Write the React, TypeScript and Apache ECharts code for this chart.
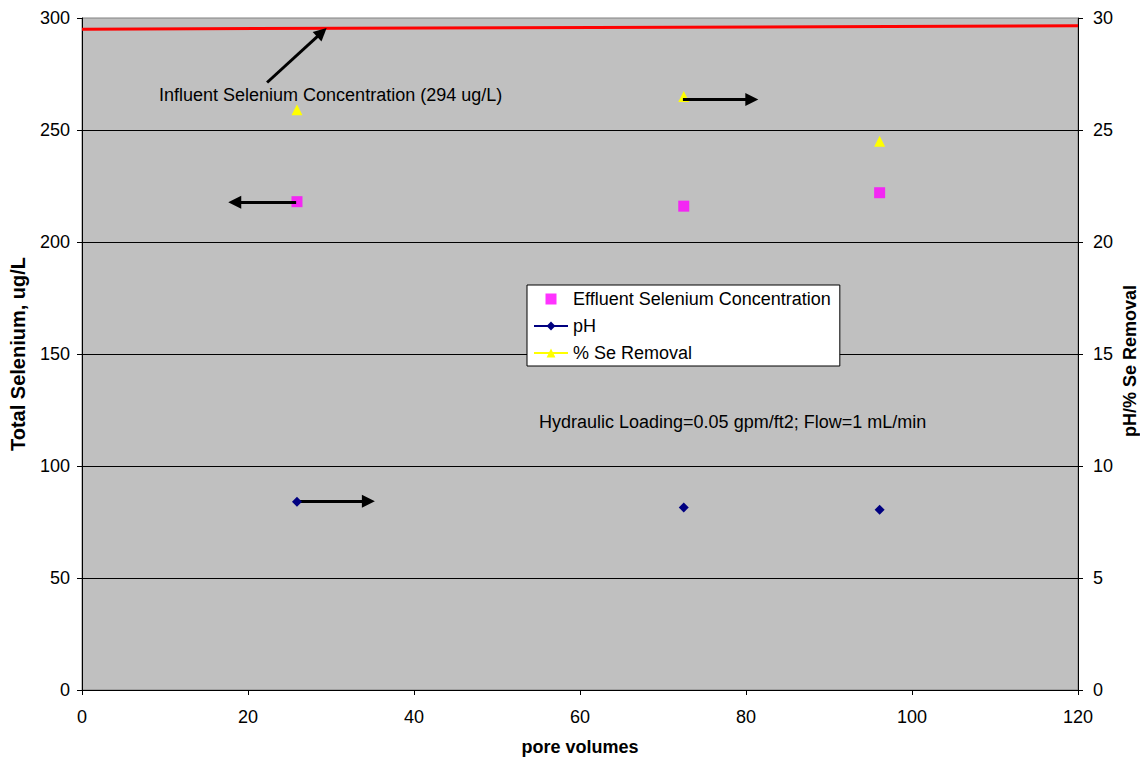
import React, { useEffect, useRef } from "react";
import * as echarts from "echarts";

const FONT = "'Liberation Sans', Arial, sans-serif";

const poreVolumes = [25.9, 72.5, 96.1];
const effluentSe = [218, 216, 222];
const pH = [8.4, 8.15, 8.05];
const seRemoval = [25.9, 26.5, 24.5];
const influentX = [0, 120];
const influentSe = [295, 296.5];

// annotation arrows: [x1, y1, x2, y2] in data units (end = arrow head centre)
const arrowInfluent = [22.3, 271.2, 28.9, 293.6]; // left axis
const arrowEffluent = [25.8, 217.7, 18.4, 217.7]; // left axis
const arrowPH = [25.9, 8.43, 34.5, 8.43]; // right axis
const arrowRemoval = [72.4, 26.36, 80.7, 26.36]; // right axis

const arrowLine = (a: number[]) => [{ coord: [a[0], a[1]] }, { coord: [a[2], a[3]] }];

export default function App() {
  const ref = useRef<HTMLDivElement>(null);
  useEffect(() => {
    if (!ref.current) return;
    document.body.style.margin = "0";
    document.body.style.overflow = "hidden";
    const chart = echarts.init(ref.current, null, { renderer: "svg" });
    const mlBase = {
      silent: true,
      symbol: ["none", "triangle"],
      symbolSize: [13, 13],
      label: { show: false },
      lineStyle: { color: "#000", width: 3, type: "solid" },
      emphasis: { disabled: true },
    };
    chart.setOption({
      animation: false,
      backgroundColor: "#fff",
      textStyle: { fontFamily: FONT },
      grid: {
        left: 82,
        right: 62,
        top: 18,
        bottom: 67,
        containLabel: false,
        outerBoundsMode: "none",
        show: true,
        backgroundColor: "#C0C0C0",
        borderColor: "#808080",
        borderWidth: 1,
      },
      legend: {
        left: 527,
        top: 285,
        orient: "vertical",
        backgroundColor: "#fff",
        borderColor: "#000",
        borderWidth: 1,
        borderRadius: 0,
        padding: [5, 9, 4, 6],
        itemWidth: 34,
        itemHeight: 11,
        itemGap: 9,
        symbolKeepAspect: true,
        textStyle: { fontFamily: FONT, fontSize: 18, color: "#000", padding: [0, 0, 0, 0] },
        data: [
          { name: "Effluent Selenium Concentration", icon: "path://M0,0h10v10h-10z" },
          { name: "pH", lineStyle: { opacity: 1, width: 2, color: "#000080" } },
          { name: "% Se Removal", lineStyle: { opacity: 1, width: 2, color: "#FFFF00" } },
        ],
      },
      xAxis: {
        type: "value",
        min: 0,
        max: 120,
        interval: 20,
        name: "pore volumes",
        nameLocation: "middle",
        nameGap: 48,
        nameTextStyle: { fontFamily: FONT, fontSize: 18, fontWeight: "bold", color: "#000" },
        axisLine: { show: true, onZero: false, lineStyle: { color: "#000", width: 1 } },
        axisTick: { show: true, length: 5, inside: false, lineStyle: { color: "#000" } },
        axisLabel: { fontFamily: FONT, fontSize: 18, color: "#000", margin: 18 },
        splitLine: { show: false },
      },
      yAxis: [
        {
          type: "value",
          min: 0,
          max: 300,
          interval: 50,
          position: "left",
          name: "Total Selenium, ug/L",
          nameLocation: "middle",
          nameRotate: 90,
          nameGap: 54,
          nameTextStyle: { fontFamily: FONT, fontSize: 20, fontWeight: "bold", color: "#000" },
          axisLine: { show: true, lineStyle: { color: "#000", width: 1 } },
          axisTick: { show: true, length: 5, lineStyle: { color: "#000" } },
          axisLabel: { fontFamily: FONT, fontSize: 18, color: "#000", margin: 12 },
          splitLine: { show: true, showMaxLine: false, lineStyle: { color: "#000", width: 1 } },
        },
        {
          type: "value",
          min: 0,
          max: 30,
          interval: 5,
          position: "right",
          axisLine: { show: true, lineStyle: { color: "#000", width: 1 } },
          axisTick: { show: true, length: 5, lineStyle: { color: "#000" } },
          axisLabel: { fontFamily: FONT, fontSize: 18, color: "#000", margin: 15 },
          splitLine: { show: false },
        },
      ],
      series: [
        {
          name: "Influent",
          type: "line",
          yAxisIndex: 0,
          data: influentX.map((x, i) => [x, influentSe[i]]),
          showSymbol: false,
          symbol: "none",
          lineStyle: { color: "#FF0000", width: 3 },
          z: 3,
          silent: true,
          markLine: { ...mlBase, data: [arrowLine(arrowInfluent), arrowLine(arrowEffluent)] },
        },
        {
          name: "Effluent Selenium Concentration",
          type: "scatter",
          yAxisIndex: 0,
          symbol: "rect",
          symbolSize: 11,
          itemStyle: { color: "#FF00FF" },
          data: poreVolumes.map((x, i) => [x, effluentSe[i]]),
          z: 4,
        },
        {
          name: "pH",
          type: "line",
          yAxisIndex: 1,
          symbol: "diamond",
          symbolSize: 10,
          showSymbol: true,
          itemStyle: { color: "#000080" },
          lineStyle: { opacity: 0, width: 0, color: "#000080" },
          data: poreVolumes.map((x, i) => [x, pH[i]]),
          z: 5,
          markLine: { ...mlBase, data: [arrowLine(arrowPH), arrowLine(arrowRemoval)] },
        },
        {
          name: "% Se Removal",
          type: "line",
          yAxisIndex: 1,
          symbol: "triangle",
          symbolSize: 11,
          showSymbol: true,
          itemStyle: { color: "#FFFF00" },
          lineStyle: { opacity: 0, width: 0, color: "#FFFF00" },
          data: poreVolumes.map((x, i) => [x, seRemoval[i]]),
          z: 4,
        },
      ],
      graphic: [
        {
          type: "text",
          left: 159,
          top: 86,
          style: { text: "Influent Selenium Concentration (294 ug/L)", fontFamily: FONT, fontSize: 18, fill: "#000" },
          z: 10,
        },
        {
          type: "text",
          left: 539,
          top: 413,
          style: { text: "Hydraulic Loading=0.05 gpm/ft2; Flow=1 mL/min", fontFamily: FONT, fontSize: 18, fill: "#000" },
          z: 10,
        },
        {
          type: "text",
          x: 1130,
          y: 361,
          rotation: Math.PI / 2,
          style: {
            text: "pH/% Se Removal",
            fontFamily: FONT,
            fontSize: 18,
            fontWeight: "bold",
            fill: "#000",
            align: "center",
            verticalAlign: "middle",
          },
          z: 10,
        },
      ],
    });
    return () => chart.dispose();
  }, []);
  return <div ref={ref} style={{ width: 1140, height: 757 }} />;
}
